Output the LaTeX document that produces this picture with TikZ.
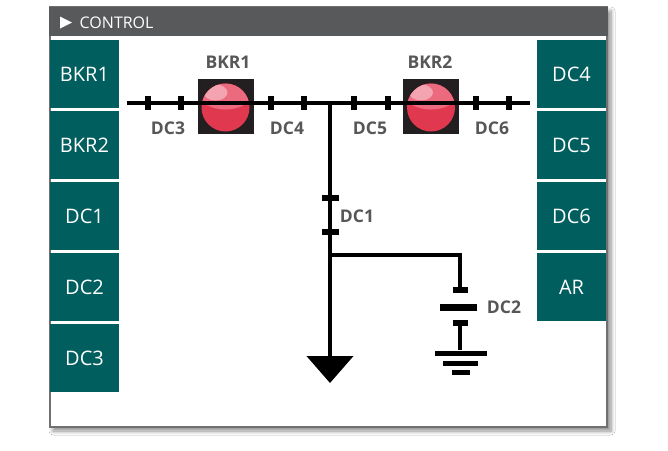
\documentclass[tikz,border=0pt]{standalone}
\usepackage{fontspec}
\setmainfont{Open Sans}
\usetikzlibrary{shadows.blur,arrows.meta}
\definecolor{btnteal}{HTML}{015E5E}
\definecolor{hdrgray}{HTML}{58595B}
\definecolor{framegray}{HTML}{707070}
\definecolor{lblgray}{HTML}{575757}
\definecolor{brkdark}{HTML}{231F20}
\definecolor{brkred}{HTML}{E0384E}
\definecolor{brkpink}{HTML}{EC6A7E}
\definecolor{brklight}{HTML}{F4A3B0}
\begin{document}
\begin{tikzpicture}[x=1pt,y=-1pt,
  btn/.style={fill=btnteal, text=white, minimum width=69pt, minimum height=68pt, inner sep=0pt, font=\fontsize{20}{24}\selectfont},
  lbl/.style={text=lblgray, inner sep=0pt, font=\bfseries\fontsize{17.5}{20}\selectfont},
  wire/.style={line width=4.5pt, black},
  thinwire/.style={line width=4pt, black},
  htick/.style={fill=black, minimum width=6pt, minimum height=14pt, inner sep=0pt},
  vtick/.style={fill=black, minimum width=17pt, minimum height=6pt, inner sep=0pt},
  plate/.style={fill=black, inner sep=0pt},
  breaker/.style={fill=brkdark, minimum width=56pt, minimum height=55pt, inner sep=0pt}
]
\useasboundingbox (0,0) rectangle (668,450);
\fill[white] (0,0) rectangle (668,450);
% frame
\fill[white, blur shadow={shadow xshift=3pt, shadow yshift=-4pt, shadow blur steps=8, shadow blur radius=4pt, shadow opacity=45}] (50,7) rectangle (608,427);
\draw[framegray, line width=2pt] (50,7) rectangle (607,427);
\fill[hdrgray] (49,7) rectangle (608,36);
\fill[white] (60,16.5) -- (60,28.5) -- (72,22.5) -- cycle;
\node[text=white, anchor=west, inner sep=0pt, font=\fontsize{16}{18}\selectfont] (hdr) at (79.5,22.5) {CONTROL};
% left buttons
\node[btn] (lb1) at (84.5,74) {BKR1};
\node[btn] (lb2) at (84.5,145) {BKR2};
\node[btn] (lb3) at (84.5,216) {DC1};
\node[btn] (lb4) at (84.5,287) {DC2};
\node[btn] (lb5) at (84.5,358) {DC3};
% right buttons
\node[btn] (rb1) at (571.5,74) {DC4};
\node[btn] (rb2) at (571.5,145) {DC5};
\node[btn] (rb3) at (571.5,216) {DC6};
\node[btn] (rb4) at (571.5,287) {AR};
% breakers
\node[breaker] (bk1) at (225.5,106.5) {};
\node[breaker] (bk2) at (431,106.5) {};
\foreach \b in {bk1,bk2}{
  \fill[brkred] ([yshift=-1pt]\b.center) circle[radius=24];
  \begin{scope}
    \clip ([yshift=-1pt]\b.center) circle[radius=24];
    \fill[brkpink] ([yshift=12pt]\b.center) ellipse[x radius=26, y radius=15];
    \fill[brklight] ([xshift=-10pt,yshift=14pt]\b.center) ellipse[x radius=12, y radius=8];
  \end{scope}
}
% bus
\coordinate (busL) at (127,103);
\coordinate (busR) at (530,103);
\coordinate (j) at (330,103);
\coordinate (k) at (330,255);
\coordinate (gnd) at (330,383);
\draw[wire] (busL) -- (busR);
\node[htick] (t1) at (148,103) {};
\node[htick] (t2) at (181,103) {};
\node[htick] (t3) at (271,103) {};
\node[htick] (t4) at (304,103) {};
\node[htick] (t5) at (354,103) {};
\node[htick] (t6) at (388,103) {};
\node[htick] (t7) at (476,103) {};
\node[htick] (t8) at (509,103) {};
% vertical feeder
\draw[wire, -{Triangle[width=46pt,length=27pt]}] (j) -- (gnd);
\node[vtick] (v1) at (330,198) {};
\node[vtick] (v2) at (330,232) {};
% branch
\node[plate, minimum width=15pt, minimum height=6pt] (cap1) at (460,290) {};
\node[plate, minimum width=37pt, minimum height=7pt] (bar) at (458.5,307) {};
\node[plate, minimum width=15pt, minimum height=6pt] (cap2) at (460,323) {};
\node[plate, minimum width=52pt, minimum height=5pt] (g1) at (461,353) {};
\node[plate, minimum width=35pt, minimum height=5pt] (g2) at (460.5,363) {};
\node[plate, minimum width=18pt, minimum height=5pt] (g3) at (461,372) {};
\draw[thinwire] (k) -| (cap1.north);
\draw[thinwire] (cap2.south) -- (cap2.south |- g1.north);
% labels
\node[lbl] (l1) at (228,62) {BKR1};
\node[lbl] (l2) at (430,62) {BKR2};
\node[lbl] (l3) at (168,128) {DC3};
\node[lbl] (l4) at (287,128) {DC4};
\node[lbl] (l5) at (370,128) {DC5};
\node[lbl] (l6) at (492,128) {DC6};
\node[lbl] (l7) at (357,216) {DC1};
\node[lbl] (l8) at (504,307) {DC2};
\end{tikzpicture}
\end{document}
